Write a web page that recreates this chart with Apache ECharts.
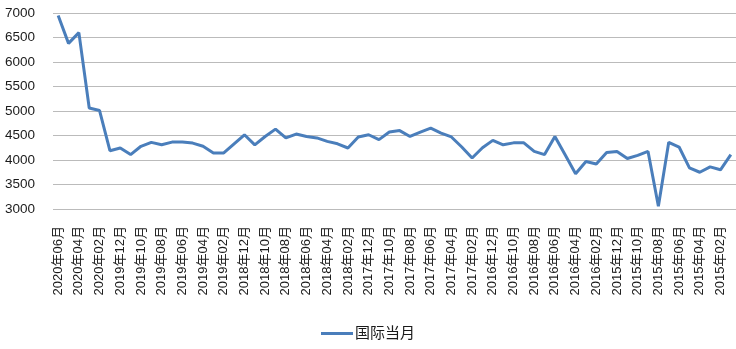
<!DOCTYPE html>
<html>
<head>
<meta charset="utf-8">
<script src="https://cdn.jsdelivr.net/npm/echarts@6/dist/echarts.min.js"></script>
<style>
html,body{margin:0;padding:0;background:#fff;}
#c{width:736px;height:349px;}
</style>
</head>
<body>
<div id="c"></div>
<script>
// Months from 2020-06 back to 2015-01
const categories = [
 "2020年06月","2020年05月","2020年04月","2020年03月","2020年02月","2020年01月",
 "2019年12月","2019年11月","2019年10月","2019年09月","2019年08月","2019年07月","2019年06月","2019年05月","2019年04月","2019年03月","2019年02月","2019年01月",
 "2018年12月","2018年11月","2018年10月","2018年09月","2018年08月","2018年07月","2018年06月","2018年05月","2018年04月","2018年03月","2018年02月","2018年01月",
 "2017年12月","2017年11月","2017年10月","2017年09月","2017年08月","2017年07月","2017年06月","2017年05月","2017年04月","2017年03月","2017年02月","2017年01月",
 "2016年12月","2016年11月","2016年10月","2016年09月","2016年08月","2016年07月","2016年06月","2016年05月","2016年04月","2016年03月","2016年02月","2016年01月",
 "2015年12月","2015年11月","2015年10月","2015年09月","2015年08月","2015年07月","2015年06月","2015年05月","2015年04月","2015年03月","2015年02月","2015年01月"
];
const seriesName = "国际当月";
const values = [
 6950,6380,6600,5060,5010,4190,
 4245,4110,4280,4360,4310,4365,4365,4345,4280,4145,4145,4330,
 4515,4310,4480,4630,4450,4530,4480,4450,4380,4330,4245,4470,
 4515,4415,4570,4600,4480,4570,4650,4550,4470,4265,4040,4250,
 4400,4310,4350,4350,4175,4110,4480,4100,3720,3970,3920,4155,
 4175,4030,4095,4175,3055,4360,4265,3840,3750,3860,3800,4110
];
const yMin = 3000, yMax = 7000, yStep = 500;

const font = "'Liberation Sans','Noto Sans CJK SC',Arial,sans-serif";
const chart = echarts.init(document.getElementById('c'));
chart.setOption({
  animation: false,
  grid: {left: 53, right: 0, top: 13, bottom: 140, containLabel: false},
  legend: {
    data: [{name: seriesName, icon: 'rect'}],
    top: 321, left: 'center',
    itemWidth: 32, itemHeight: 3, itemGap: 10,
    textStyle: {fontSize: 15, color: '#1a1a1a', fontFamily: font, padding: [0,0,0,-3]}
  },
  xAxis: {
    type: 'category', data: categories, boundaryGap: true,
    axisLine: {show: false}, axisTick: {show: false},
    axisLabel: {interval: 1, rotate: 90, margin: 17, fontSize: 13, color: '#1a1a1a', fontFamily: font}
  },
  yAxis: {
    type: 'value', min: yMin, max: yMax, interval: yStep,
    axisLine: {show: false}, axisTick: {show: false},
    axisLabel: {margin: 18, fontSize: 13.5, color: '#1a1a1a', fontFamily: font, formatter: v => String(v)},
    splitLine: {lineStyle: {color: '#BBBBBB', width: 1.2}}
  },
  series: [{
    name: seriesName, type: 'line', data: values,
    showSymbol: false, symbol: 'none',
    lineStyle: {color: '#4A7EBB', width: 3},
    itemStyle: {color: '#4A7EBB'}
  }]
});
</script>
</body>
</html>
